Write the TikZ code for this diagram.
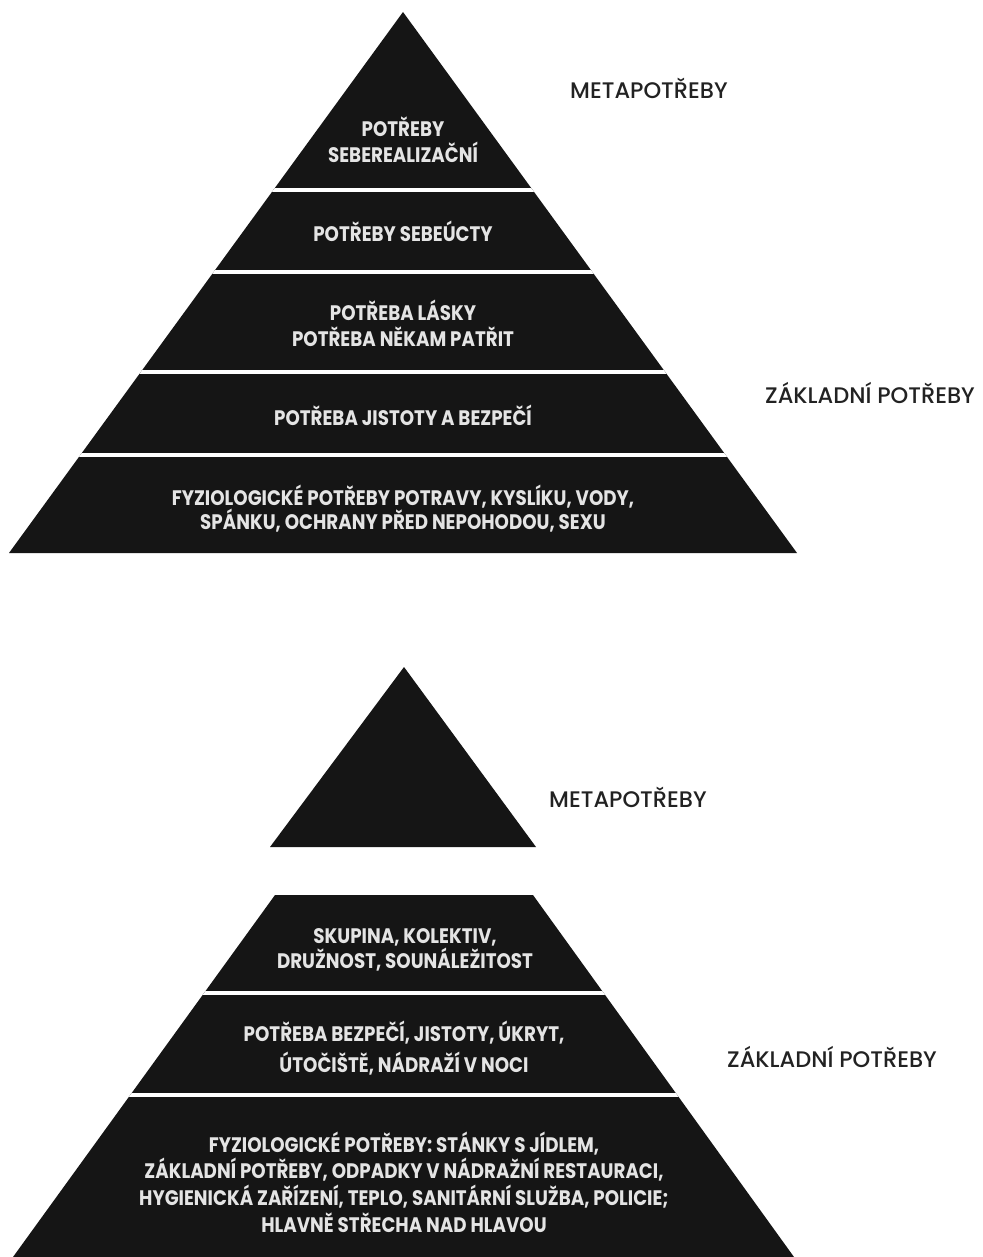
\documentclass[tikz,border=0pt]{standalone}
\usepackage{fontspec}
\setmainfont{Poppins}
\newfontfamily\pyr{Poppins}[FakeStretch=0.87]
\newfontfamily\labfont{Poppins Medium}
\definecolor{pyrblack}{HTML}{151515}
\definecolor{ptextc}{HTML}{E4E4E4}
\definecolor{labc}{HTML}{222222}
\tikzset{
  layer/.style={fill=pyrblack, draw=none},
  sep/.style={draw=white, line width=4pt},
  ptext/.style={text=ptextc, align=center, inner sep=0pt, font=\pyr\bfseries\fontsize{21}{26}\selectfont},
  sidelabel/.style={text=labc, anchor=west, inner sep=0pt, font=\labfont\fontsize{22.5}{26}\selectfont}
}
\begin{document}
\begin{tikzpicture}[x=1pt,y=-1pt]
\useasboundingbox (0,0) rectangle (982,1257);
\fill[white] (0,0) rectangle (982,1257);

% ---------- top pyramid ----------
\coordinate (A1) at (403,12);
\coordinate (L1) at (9,553);
\coordinate (R1) at (797,553);
\fill[layer] (A1) -- (R1) -- (L1) -- cycle;
\begin{scope}
  \clip (A1) -- (R1) -- (L1) -- cycle;
  \draw[sep] (0,190) -- (982,190);
  \draw[sep] (0,272) -- (982,272);
  \draw[sep] (0,372) -- (982,372);
  \draw[sep] (0,455) -- (982,455);
\end{scope}

\node[ptext] (t1) at (403,140) {POTŘEBY\\SEBEREALIZAČNÍ};
\node[ptext] (t2) at (403,231) {POTŘEBY SEBEÚCTY};
\node[ptext] (t3) at (403,323) {POTŘEBA LÁSKY\\POTŘEBA NĚKAM PATŘIT};
\node[ptext] (t4) at (403,415) {POTŘEBA JISTOTY A BEZPEČÍ};
\node[ptext, font=\pyr\bfseries\fontsize{21}{24}\selectfont] (t5) at (403,509)
  {FYZIOLOGICKÉ POTŘEBY POTRAVY, KYSLÍKU, VODY,\\SPÁNKU, OCHRANY PŘED NEPOHODOU, SEXU};

\node[sidelabel] (m1) at (570,88) {METAPOTŘEBY};
\node[sidelabel] (z1) at (765,393) {ZÁKLADNÍ POTŘEBY};

% ---------- bottom pyramid ----------
\coordinate (A2) at (404,667);
\coordinate (L2) at (270,847);
\coordinate (R2) at (536,847);
\fill[layer] (A2) -- (R2) -- (L2) -- cycle;

\coordinate (TL) at (275,895);
\coordinate (TR) at (533,895);
\coordinate (BR) at (794,1257);
\coordinate (BL) at (13,1257);
\fill[layer] (TL) -- (TR) -- (BR) -- (BL) -- cycle;
\begin{scope}
  \clip (TL) -- (TR) -- (BR) -- (BL) -- cycle;
  \draw[sep] (0,993) -- (982,993);
  \draw[sep] (0,1095) -- (982,1095);
\end{scope}

\node[ptext, font=\pyr\bfseries\fontsize{21}{25}\selectfont] (b1) at (405,950)
  {SKUPINA, KOLEKTIV,\\DRUŽNOST, SOUNÁLEŽITOST};
\node[ptext, font=\pyr\bfseries\fontsize{21}{31}\selectfont] (b2) at (404,1048)
  {POTŘEBA BEZPEČÍ, JISTOTY, ÚKRYT,\\ÚTOČIŠTĚ, NÁDRAŽÍ V NOCI};
\node[ptext, font=\pyr\bfseries\fontsize{21}{26.7}\selectfont] (b3) at (404,1182)
  {FYZIOLOGICKÉ POTŘEBY: STÁNKY S JÍDLEM,\\ZÁKLADNÍ POTŘEBY, ODPADKY V NÁDRAŽNÍ RESTAURACI,\\HYGIENICKÁ ZAŘÍZENÍ, TEPLO, SANITÁRNÍ SLUŽBA, POLICIE;\\HLAVNĚ STŘECHA NAD HLAVOU};

\node[sidelabel] (m2) at (549,797) {METAPOTŘEBY};
\node[sidelabel] (z2) at (727,1057) {ZÁKLADNÍ POTŘEBY};
\end{tikzpicture}
\end{document}
